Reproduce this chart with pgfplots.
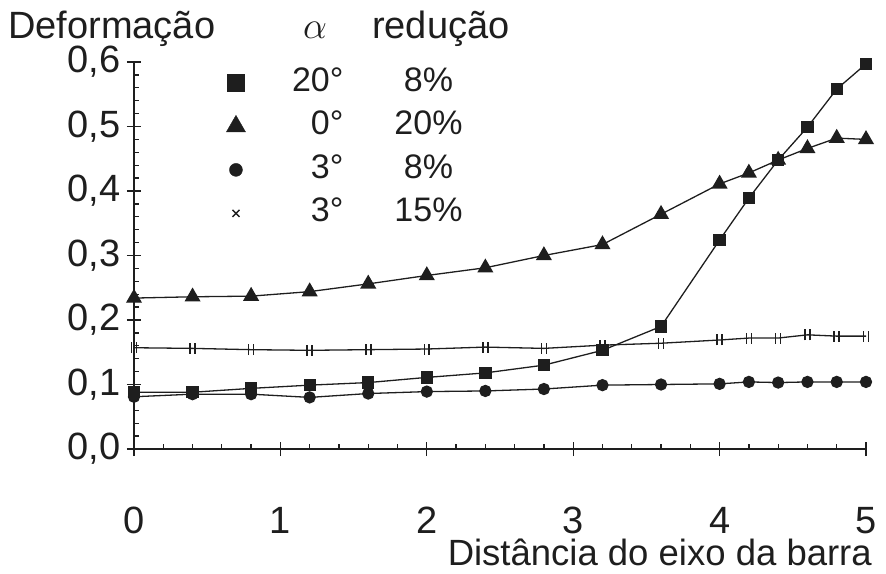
\RequirePackage{fix-cm}
\documentclass[border=0pt]{standalone}
\usepackage{fontspec}
\setmainfont{Liberation Sans}
\usepackage{pgfplots}
\pgfplotsset{compat=1.18}
\pgfdeclareplotmark{dbar}{%
  \pgfpathmoveto{\pgfpoint{-0.45\pgfplotmarksize}{-\pgfplotmarksize}}%
  \pgfpathlineto{\pgfpoint{-0.45\pgfplotmarksize}{\pgfplotmarksize}}%
  \pgfpathmoveto{\pgfpoint{0.45\pgfplotmarksize}{-\pgfplotmarksize}}%
  \pgfpathlineto{\pgfpoint{0.45\pgfplotmarksize}{\pgfplotmarksize}}%
  \pgfusepathqstroke}
\definecolor{ink}{HTML}{1E1E1E}
\begin{document}
\begin{tikzpicture}
\useasboundingbox (-134pt,-124pt) rectangle (752pt,449pt);
\begin{axis}[
  at={(0pt,0pt)}, anchor=south west,
  scale only axis, width=732pt, height=387pt,
  xmin=0, xmax=5, ymin=0, ymax=0.6,
  axis lines=left, axis line style={-, line width=1.6pt, ink},
  clip=false,
  xtick={0,1,2,3,4,5}, ytick={0,0.1,0.2,0.3,0.4,0.5,0.6},
  minor x tick num=4, minor y tick num=4,
  tick align=center, major tick length=14pt, minor tick length=5pt,
  tick style={line width=1.3pt, ink},
  minor x tick style={yshift=2.5pt}, minor y tick style={xshift=2.5pt},
  /pgf/number format/assume math mode=true,
  tick label style={font=\fontsize{38}{38}\selectfont, text=ink},
  yticklabel style={/pgf/number format/.cd, fixed, fixed zerofill, precision=1, use comma, /tikz/.cd, xshift=-3pt},
  xticklabel style={inner sep=0pt, yshift=-51pt},
  xlabel={Distância do eixo da barra},
  xlabel style={at={(rel axis cs:1,0)}, anchor=base east, inner sep=0pt, yshift=-116pt, xshift=6pt, font=\fontsize{36.5}{36.5}\selectfont, text=ink},
  legend style={draw=none, fill=none, at={(rel axis cs:0.126,0.997)}, anchor=north west,
    font=\fontsize{34}{34}\selectfont, text=ink, row sep=4.5pt, inner sep=0pt,
    nodes={inner sep=2pt, text height=26pt, text depth=9pt}},
  legend cell align=left,
]
\addlegendimage{only marks, mark=square*, mark size=8.5pt, ink}
\addlegendentry{\makebox[96pt][r]{20°}\makebox[170pt][c]{8\%}}
\addlegendimage{only marks, mark=triangle*, mark size=11pt, ink}
\addlegendentry{\makebox[96pt][r]{0°}\makebox[170pt][c]{20\%}}
\addlegendimage{only marks, mark=*, mark size=6.5pt, ink}
\addlegendentry{\makebox[96pt][r]{3°}\makebox[170pt][c]{8\%}}
\addlegendimage{only marks, mark=x, mark size=5pt, ink, line width=1.4pt}
\addlegendentry{\makebox[96pt][r]{3°}\makebox[170pt][c]{15\%}}

% 20 deg, 8%
\addplot[forget plot, ink, line width=1.3pt, mark=square*, mark size=5.5pt] coordinates {
(0,0.088) (0.4,0.088) (0.8,0.094) (1.2,0.099) (1.6,0.103) (2.0,0.111) (2.4,0.118) (2.8,0.130)
(3.2,0.153) (3.6,0.190) (4.0,0.324) (4.2,0.389) (4.4,0.448) (4.6,0.499) (4.8,0.558) (5.0,0.597)};
% 0 deg, 20%
\addplot[forget plot, ink, line width=1.3pt, mark=triangle*, mark size=8pt] coordinates {
(0,0.234) (0.4,0.236) (0.8,0.237) (1.2,0.244) (1.6,0.256) (2.0,0.269) (2.4,0.281) (2.8,0.300)
(3.2,0.317) (3.6,0.364) (4.0,0.411) (4.2,0.428) (4.4,0.448) (4.6,0.466) (4.8,0.482) (5.0,0.480)};
% 3 deg, 8%
\addplot[forget plot, ink, line width=1.3pt, mark=*, mark size=5.5pt] coordinates {
(0,0.081) (0.4,0.085) (0.8,0.085) (1.2,0.080) (1.6,0.086) (2.0,0.089) (2.4,0.090) (2.8,0.093)
(3.2,0.099) (3.6,0.100) (4.0,0.101) (4.2,0.104) (4.4,0.103) (4.6,0.104) (4.8,0.104) (5.0,0.104)};
% 3 deg, 15%
\addplot[forget plot, ink, line width=1.3pt, mark=dbar, mark size=5.5pt, mark options={line width=1.6pt}] coordinates {
(0,0.157) (0.4,0.156) (0.8,0.154) (1.2,0.153) (1.6,0.154) (2.0,0.155) (2.4,0.158) (2.8,0.156)
(3.2,0.161) (3.6,0.164) (4.0,0.169) (4.2,0.172) (4.4,0.172) (4.6,0.177) (4.8,0.175) (5.0,0.175)};

\node[anchor=base west, font=\fontsize{38}{38}\selectfont, text=ink, inner sep=0pt, xshift=-126pt, yshift=24pt] at (rel axis cs:0,1) {Deformação};
\node[anchor=base, font=\fontsize{38}{38}\selectfont, text=ink, inner sep=0pt, xshift=181pt, yshift=24pt] at (rel axis cs:0,1) {$\alpha$};
\node[anchor=base west, font=\fontsize{38}{38}\selectfont, text=ink, inner sep=0pt, xshift=238pt, yshift=24pt] at (rel axis cs:0,1) {redução};
\end{axis}
\end{tikzpicture}
\end{document}
